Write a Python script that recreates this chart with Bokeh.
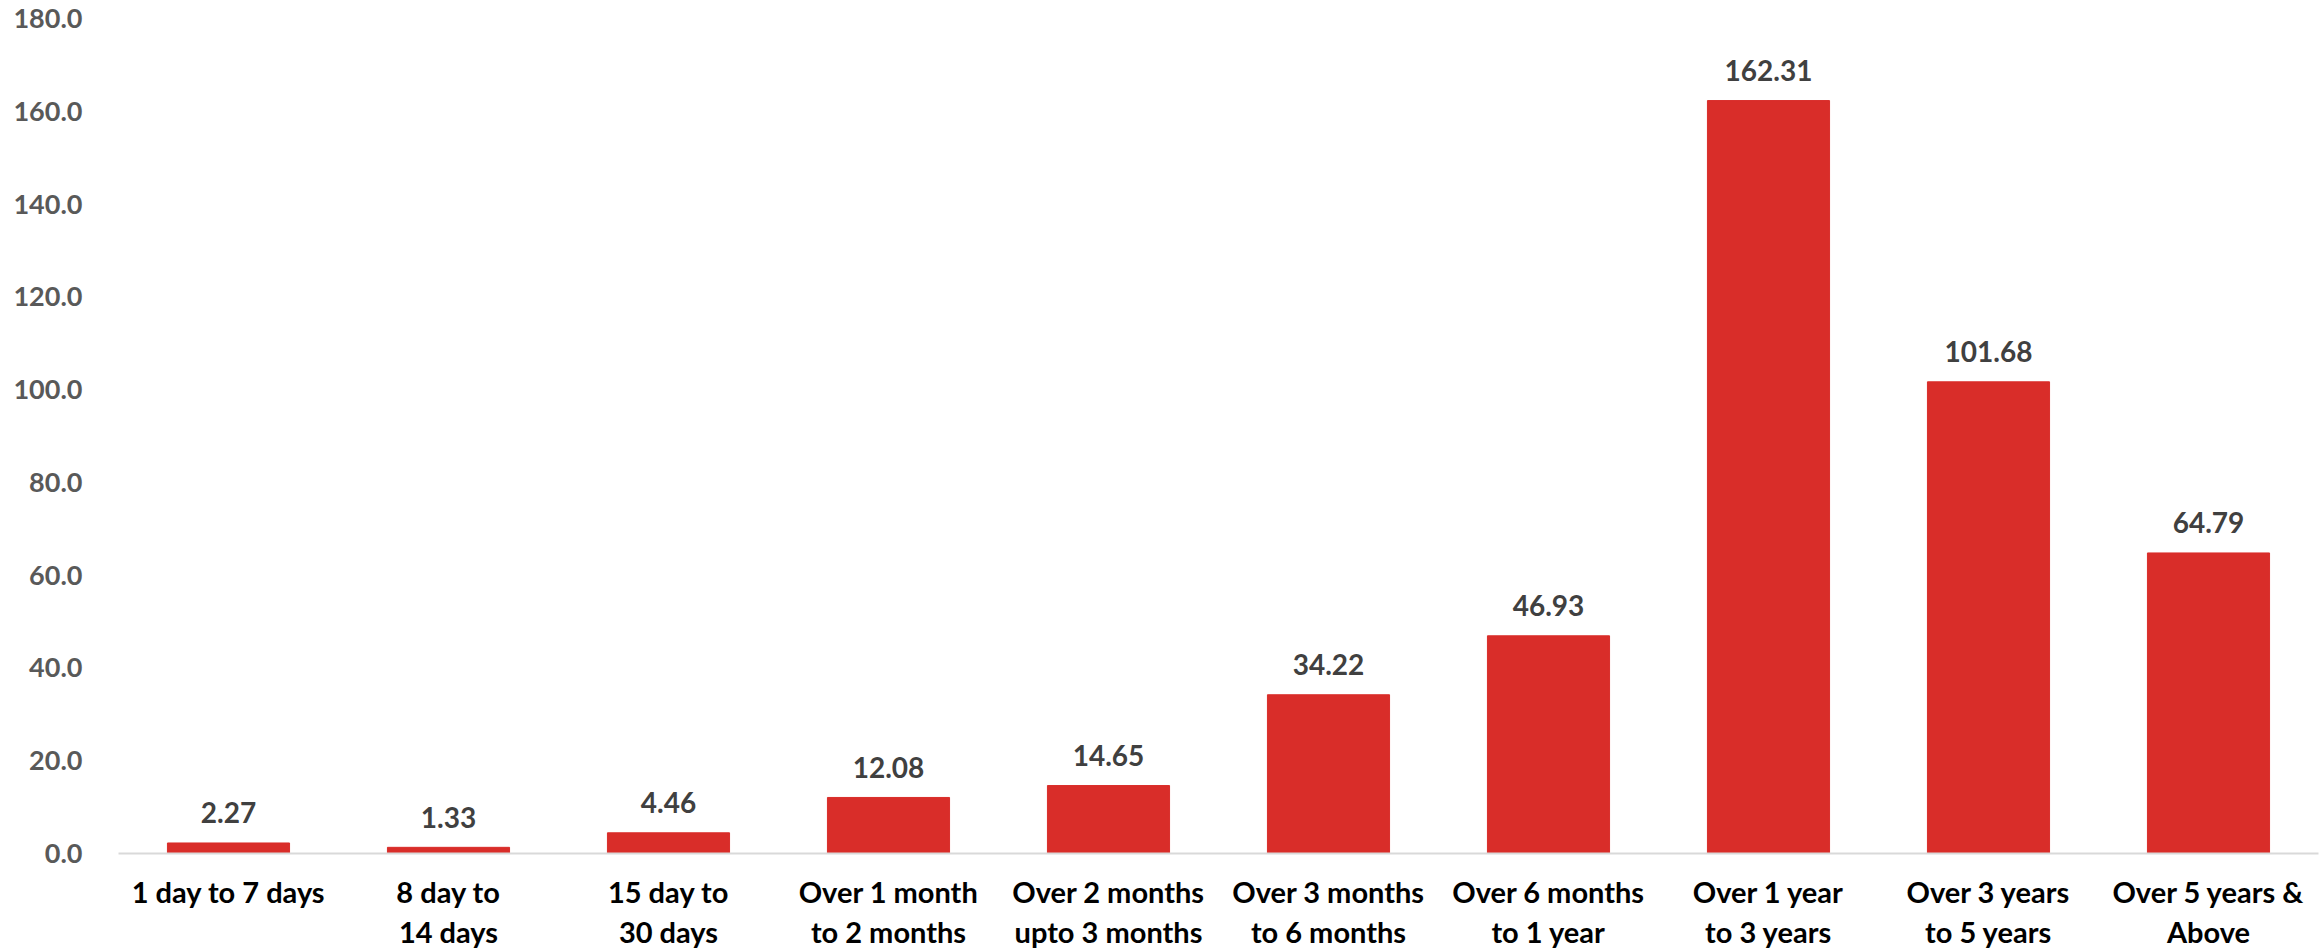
from bokeh.plotting import figure
from bokeh.models import ColumnDataSource, NumeralTickFormatter, FixedTicker, Range1d
from bokeh.core.properties import value
from bokeh.embed import file_html
from bokeh.resources import INLINE

categories = ["1 day to 7 days", "8 day to\n14 days", "15 day to\n30 days",
              "Over 1 month\nto 2 months", "Over 2 months\nupto 3 months",
              "Over 3 months\nto 6 months", "Over 6 months\nto 1 year",
              "Over 1 year\nto 3 years", "Over 3 years\nto 5 years",
              "Over 5 years &\nAbove"]
values = [2.27, 1.33, 4.46, 12.08, 14.65, 34.22, 46.93, 162.31, 101.68, 64.79]
y_ticks = [0, 20, 40, 60, 80, 100, 120, 140, 160, 180]

pos = list(range(len(categories)))
src = ColumnDataSource(dict(x=pos, cat=categories, val=values,
                            lbl=["%.2f" % v for v in values]))

p = figure(x_range=Range1d(-0.5, len(categories) - 0.5), y_range=(0, 180),
           width=2323, height=951,
           output_backend="svg", toolbar_location=None,
           min_border_left=118, min_border_right=5, min_border_top=18,
           min_border_bottom=95)
p.outline_line_color = None
p.background_fill_color = "white"
p.border_fill_color = "white"

p.vbar(x="x", top="val", width=0.555, source=src, color="#D92D29")
p.text(x="x", y="val", text="lbl", source=src, y_offset=-30,
       text_align="center", text_baseline="middle",
       text_font=value("Lato"), text_font_style="bold",
       text_font_size="28px", text_color="#404040")

p.xgrid.grid_line_color = None
p.ygrid.grid_line_color = None

p.yaxis.ticker = FixedTicker(ticks=y_ticks)
p.yaxis.formatter = NumeralTickFormatter(format="0.0")
p.yaxis.axis_line_color = None
p.yaxis.major_tick_line_color = None
p.yaxis.minor_tick_line_color = None
p.yaxis.major_label_standoff = 30
p.yaxis.major_label_text_font = "Lato"
p.yaxis.major_label_text_font_style = "bold"
p.yaxis.major_label_text_font_size = "27px"
p.yaxis.major_label_text_color = "#595959"

p.xaxis.ticker = FixedTicker(ticks=pos)
p.xaxis.major_label_overrides = {i: c for i, c in zip(pos, categories)}
p.xaxis.axis_line_color = "#D9D9D9"
p.xaxis.axis_line_width = 2
p.xaxis.major_tick_line_color = None
p.xaxis.minor_tick_line_color = None
p.xaxis.major_label_standoff = 14
p.xaxis.major_label_text_font = "Lato"
p.xaxis.major_label_text_font_style = "bold"
p.xaxis.major_label_text_font_size = "29px"
p.xaxis.major_label_text_color = "#000000"
p.xaxis.major_label_text_line_height = 1.15

open("out.html", "w").write(file_html(p, INLINE))
